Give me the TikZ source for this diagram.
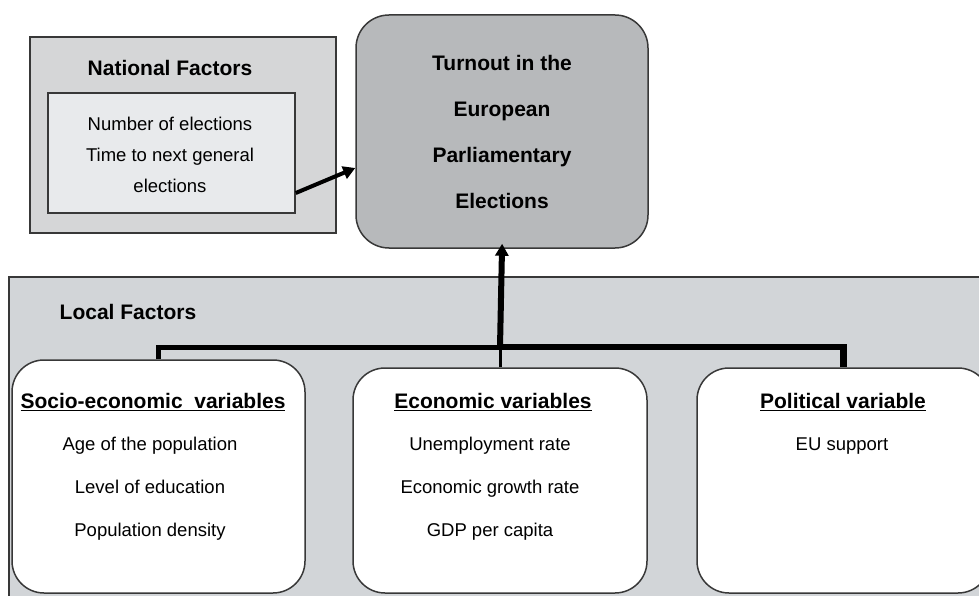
\documentclass[tikz,border=0pt]{standalone}
\usepackage{fontspec}
\setmainfont{Liberation Sans}
\usetikzlibrary{arrows.meta, positioning}
\definecolor{frameGray}{gray}{0.22}
\definecolor{panelGray}{HTML}{D2D5D8}
\definecolor{natGray}{HTML}{D5D6D7}
\definecolor{boxGray}{HTML}{E8EAEC}
\definecolor{goalGray}{HTML}{B7B9BB}

\begin{document}
\begin{tikzpicture}[x=1pt, y=-1pt, >={Triangle[length=12pt, width=13pt]},
    panel/.style={draw=frameGray, line width=1.5pt, inner sep=0pt},
    varbox/.style={draw=frameGray, fill=white, line width=1.5pt, rounded corners=32pt, inner sep=0pt},
    head/.style={font=\bfseries\fontsize{21}{25}\selectfont},
    items/.style={align=center, font=\fontsize{18.5}{43}\selectfont},
    link/.style={line width=5pt}]
    \useasboundingbox (0,0) rectangle (979,596);
    \clip (0,0) rectangle (979,596);

    % National factors
    \node[panel, fill=natGray, minimum width=306pt, minimum height=196pt] (national) at (183,135) {};
    \node[head] (natTitle) at (170,68) {National Factors};
    \node[panel, fill=boxGray, minimum width=247pt, minimum height=120pt] (natBox) at (171.5,153) {};
    \node[align=center, font=\fontsize{18.5}{31}\selectfont] (natItems) at (170,155)
        {Number of elections\\Time to next general\\elections};

    % Turnout
    \node[panel, fill=goalGray, rounded corners=33pt, minimum width=292pt, minimum height=233pt,
        align=center, font=\bfseries\fontsize{21}{46}\selectfont] (goal) at (502,131.5)
        {Turnout in the\\European\\Parliamentary\\Elections};

    % Local factors
    \node[panel, fill=panelGray, minimum width=990pt, minimum height=340pt] (local) at (504,447) {};
    \node[head] (locTitle) at (128,312) {Local Factors};

    \node[varbox, minimum width=293pt, minimum height=233pt] (socio) at (158.5,476.5) {};
    \node[varbox, minimum width=294pt, minimum height=225pt] (econ) at (500,480.5) {};
    \node[varbox, minimum width=293pt, minimum height=225pt] (pol) at (843.5,480.5) {};

    \node[head] (socioTitle) at (153,402) {\underline{Socio-economic~~variables}};
    \node[items] (socioItems) at (150,489) {Age of the population\\Level of education\\Population density};
    \node[head] (econTitle) at (493,402) {\underline{Economic variables}};
    \node[items] (econItems) at (490,489) {Unemployment rate\\Economic growth rate\\GDP per capita};
    \node[head] (polTitle) at (843,402) {\underline{Political variable}};
    \node[items] (polItems) at (842,446) {EU support};

    % Links
    \coordinate (hub) at (500,347);
    \draw[link] (socio.north) |- (hub);
    \draw[link, line width=6.5pt] (hub) -| (pol.north);
    \draw[line width=3pt] (econ.north) -- (hub);
    \draw[->, link, line width=6pt, shorten >=-5pt] (hub) -- (goal.south);
    \draw[->, line width=4pt] ([yshift=-40pt]natBox.east) -- ([yshift=-36.5pt]goal.west);
\end{tikzpicture}
\end{document}
